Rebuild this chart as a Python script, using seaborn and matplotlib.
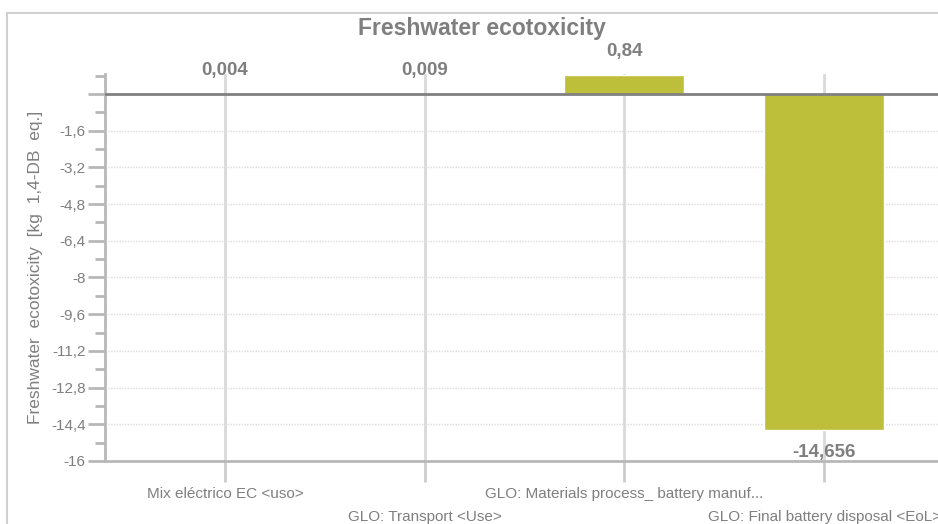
import numpy as np
import pandas as pd
import matplotlib
matplotlib.use("Agg")
import matplotlib.pyplot as plt
import seaborn as sns
from matplotlib.ticker import MultipleLocator, FuncFormatter
from matplotlib.patches import Rectangle

# Datos
categories = ["Mix eléctrico EC <uso>", "GLO: Transport <Use>",
              "GLO: Materials process_ battery manuf...", "GLO: Final battery disposal <EoL>"]
values = [0.004, 0.009, 0.84, -14.656]
value_labels = ["0,004", "0,009", "0,84", "-14,656"]

bar_color = "#bdbf3a"
text_gray = "#7f7f7f"
axis_gray = "#b8b8b8"

sns.set_style("white")
plt.rcParams["font.family"] = ["Liberation Sans", "DejaVu Sans"]

fig = plt.figure(figsize=(9.38, 5.24), dpi=100)
ax = fig.add_axes([105 / 938, 1 - 461 / 524, 1 - 105 / 938, (461 - 74) / 524])

df = pd.DataFrame({"cat": categories, "val": values})
sns.barplot(data=df, x="cat", y="val", color=bar_color, width=0.6, saturation=1,
            ax=ax, zorder=3)

ax.set_xlim(-0.6, 3.57)
ax.set_ylim(-16, 0.87)

# ejes y cuadrícula
ax.yaxis.set_major_locator(MultipleLocator(1.6))
ax.yaxis.set_minor_locator(MultipleLocator(0.8))


def fmt(v, pos):
    if abs(v) < 1e-9:
        return ""
    s = f"{v:.1f}"
    if s.endswith(".0"):
        s = s[:-2]
    return s.replace(".", ",")


ax.yaxis.set_major_formatter(FuncFormatter(fmt))
ax.tick_params(axis="y", which="major", left=True, length=12, width=2, color=axis_gray,
               labelcolor=text_gray, labelsize=11, pad=2)
ax.tick_params(axis="y", which="minor", left=True, length=7, width=2, color=axis_gray)
ax.grid(axis="y", which="major", linestyle=(0, (1, 1)), color="#dddddd", linewidth=1, zorder=0)

ax.set_xticks(range(len(categories)))
ax.set_xticklabels(categories, color=text_gray, fontsize=11)
ax.tick_params(axis="x", bottom=True, length=15, width=2, color="#cccccc", pad=4)
# etiquetas alternadas en dos filas
for i, tick in enumerate(ax.xaxis.get_major_ticks()):
    if i % 2 == 1:
        tick.set_pad(20.5)
ax.grid(axis="x", color="#d9d9d9", linewidth=2, zorder=0)
ax.set_xlabel("")

for side in ["top", "right"]:
    ax.spines[side].set_visible(False)
ax.spines["left"].set_color(axis_gray)
ax.spines["left"].set_linewidth(2)
ax.spines["bottom"].set_color(axis_gray)
ax.spines["bottom"].set_linewidth(2)

ax.axhline(0, color="#808080", linewidth=2, zorder=4)

ax.set_ylabel("Freshwater  ecotoxicity  [kg  1,4-DB  eq.]", color=text_gray,
              fontsize=12.5, labelpad=6)

# etiquetas de valor
for i, (v, lab) in enumerate(zip(values, value_labels)):
    off = 17 if v >= 0 else -16
    ax.annotate(lab, (i, v), xytext=(0, off), textcoords="offset points",
                ha="center", va="center", color=text_gray, fontsize=13.5,
                fontweight="bold", zorder=5)

fig.text(482 / 938, 1 - 28 / 524, "Freshwater ecotoxicity", ha="center", va="center",
         color=text_gray, fontsize=16.5, fontweight="bold")

# marco exterior
fig.patches.append(Rectangle((7 / 938, -0.1), 1.2, 1 - 13 / 524 + 0.1,
                             transform=fig.transFigure, fill=False,
                             edgecolor="#d0d0d0", linewidth=1.5))

fig.savefig("out.png", dpi=100)
